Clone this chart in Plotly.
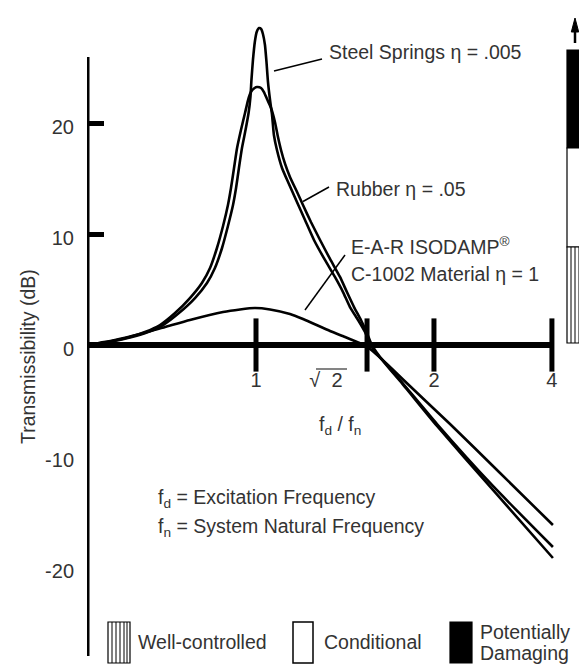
import plotly.graph_objects as go

# ---------------- data ----------------
# x: position on the illustration's f_d/f_n scale (1 = resonance tick), y: transmissibility in dB
steel_x = [0, 0.148, 0.266, 0.361, 0.450, 0.544, 0.639, 0.710, 0.757, 0.799, 0.834, 0.864, 0.882,
           0.899, 0.917, 0.938, 0.956, 0.967, 0.973, 0.982, 0.993, 1.004, 1.018, 1.030, 1.041, 1.053,
           1.062, 1.071, 1.083, 1.095, 1.106, 1.124, 1.154, 1.195, 1.237, 1.290, 1.343, 1.408, 1.467,
           1.515, 1.556, 1.604, 1.645, 1.669, 1.692, 1.746, 1.852, 2.071, 2.402, 2.757]
steel_db = [0, 0.32, 0.72, 1.17, 1.80, 2.88, 4.23, 5.59, 6.94, 8.74, 10.72, 12.61, 14.14,
            15.95, 17.75, 19.37, 20.90, 22.34, 23.87, 25.68, 27.30, 28.20, 28.56, 28.47, 28.02, 27.03,
            25.50, 23.69, 22.07, 20.72, 18.92, 17.57, 15.95, 14.50, 13.06, 11.26, 9.46, 7.66, 6.13,
            4.77, 3.42, 2.25, 1.17, 0.27, -0.36, -1.35, -3.24, -7.30, -13.06, -19.19]

rubber_x = [0, 0.136, 0.254, 0.343, 0.432, 0.521, 0.609, 0.680, 0.728, 0.769, 0.805, 0.834, 0.852,
            0.870, 0.888, 0.911, 0.935, 0.953, 0.970, 0.988, 1.006, 1.030, 1.047, 1.065, 1.089, 1.112,
            1.130, 1.148, 1.172, 1.201, 1.243, 1.278, 1.325, 1.379, 1.438, 1.497, 1.538, 1.580, 1.621,
            1.651, 1.675, 1.692, 1.734, 1.852, 2.071, 2.402, 2.757]
rubber_db = [0, 0.32, 0.72, 1.17, 1.80, 2.88, 4.23, 5.59, 6.94, 8.74, 10.72, 12.61, 14.14,
             15.95, 17.75, 19.37, 20.90, 22.07, 22.79, 23.11, 23.24, 23.15, 22.79, 22.16, 21.35, 20.09,
             18.74, 17.57, 16.31, 15.14, 13.78, 12.61, 11.08, 9.46, 7.75, 6.13, 4.77, 3.42, 2.25,
             1.26, 0.36, -0.18, -1.08, -3.15, -7.12, -12.70, -18.20]

ear_x = [0, 0.166, 0.314, 0.462, 0.609, 0.805, 0.905, 0.994, 1.083, 1.201, 1.278, 1.438, 1.527,
         1.598, 1.651, 1.710, 1.781, 1.870, 2.148, 2.444, 2.757]
ear_db = [0, 0.45, 0.99, 1.62, 2.25, 2.97, 3.20, 3.33, 3.20, 2.79, 2.34, 1.26, 0.72,
          0.27, -0.09, -0.81, -1.80, -3.11, -7.12, -11.53, -16.22]

x_tick_marks = [1.0, 1.657, 2.053, 2.751]
x_label_vals = [1.0, 1.414, 2.053, 2.751]
x_label_text = ["1", "\u221a\u00a0\u00a02", "2", "4"]
y_label_vals = [20, 10, 0, -10, -20]
y_label_text = ["20", "10", "0", "-10", "-20"]
y_tick_marks = [20, 10]

series_names = ["Steel Springs \u03b7 = .005", "Rubber \u03b7 = .05",
                "E-A-R ISODAMP\u00ae C-1002 Material \u03b7 = 1"]
zone_names = ["Well-controlled", "Conditional", "Potentially Damaging"]

# ---------------- geometry ----------------
OFF = 8                      # page margin of the html body
W, H = 587 - OFF, 666 - OFF  # figure size
AX_X = 87                    # page x of the vertical axis
ZERO_Y = 345                 # page y of 0 dB
L = AX_X - OFF
PPU = 169.0
PPD = 11.1
x_range = [0, (W - L) / PPU]
y_range = [-(H - (ZERO_Y - OFF)) / PPD, (ZERO_Y - OFF) / PPD]


def du(p):   # page x -> data x
    return (p - AX_X) / PPU


def ddb(p):  # page y -> data y
    return (ZERO_Y - p) / PPD


def pxp(p):  # page x -> paper x
    return (p - AX_X) / (W - L)


def pyp(p):  # page y -> paper y
    return 1 - (p - OFF) / H


FONT = "Liberation Sans, Arial, Helvetica, sans-serif"
FS = 19.5
TXT = "#333333"

fig = go.Figure()
for xs, ys, nm in [(ear_x, ear_db, series_names[2]), (rubber_x, rubber_db, series_names[1]),
                   (steel_x, steel_db, series_names[0])]:
    fig.add_trace(go.Scatter(x=xs, y=ys, mode="lines", name=nm,
                             line=dict(color="black", width=2.6, shape="spline", smoothing=0.5),
                             showlegend=False, hoverinfo="skip"))

fig.add_trace(go.Scatter(x=x_tick_marks, y=[0] * len(x_tick_marks), mode="markers",
                         marker=dict(symbol="line-ns", size=38, line=dict(width=5, color="black")),
                         showlegend=False, hoverinfo="skip", cliponaxis=False))
fig.add_trace(go.Scatter(x=[None], y=[None], yaxis="y2", showlegend=False, hoverinfo="skip"))

shapes = []
# axis lines
shapes.append(dict(type="line", xref="x", yref="y", x0=0, x1=0, y0=ddb(656), y1=ddb(57),
                   line=dict(color="black", width=5)))
shapes.append(dict(type="line", xref="x", yref="y", x0=0, x1=x_tick_marks[-1], y0=0, y1=0,
                   line=dict(color="black", width=6)))
# leader lines
for (a, b, c, d) in [(274, 71, 322, 59), (303, 201.5, 329, 187), (305, 310, 345, 255)]:
    shapes.append(dict(type="line", xref="x", yref="y", x0=du(a), y0=ddb(b), x1=du(c), y1=ddb(d),
                       line=dict(color="black", width=1.5)))
# overline of sqrt(2)
shapes.append(dict(type="line", xref="x", yref="y", x0=du(316), x1=du(347), y0=ddb(369), y1=ddb(369),
                   line=dict(color=TXT, width=1.2)))


def rect(x0, y0, x1, y1, fill, lw=1.2, col="black"):
    return dict(type="rect", xref="paper", yref="paper", x0=pxp(x0), x1=pxp(x1), y0=pyp(y1), y1=pyp(y0),
                fillcolor=fill, line=dict(color=col, width=lw))


def vline(x, y0, y1, lw=1.0):
    return dict(type="line", xref="paper", yref="paper", x0=pxp(x), x1=pxp(x), y0=pyp(y0), y1=pyp(y1),
                line=dict(color="black", width=lw))


# bottom legend swatches
shapes.append(rect(108, 622, 130, 663, "white"))
for xh in [112, 116, 120, 124, 127]:
    shapes.append(vline(xh, 622, 663))
shapes.append(rect(293, 622, 313, 663, "white", 1.5))
shapes.append(rect(450, 622, 472, 663, "black"))

# right-hand severity bar
shapes.append(rect(567, 50, 592, 148, "black"))
shapes.append(rect(567, 148, 592, 247, "white"))
shapes.append(rect(567, 247, 592, 343, "white"))
for xh in [571, 575, 579, 583]:
    shapes.append(vline(xh, 247, 343))
# arrow
shapes.append(vline(575, 43, 28, 2.5))
shapes.append(dict(type="path", xref="paper", yref="paper",
                   path="M {} {} L {} {} L {} {} Z".format(pxp(571.3), pyp(32), pxp(575), pyp(18),
                                                             pxp(578.7), pyp(32)),
                   fillcolor="black", line=dict(color="black", width=1)))

ann = []


def txt(x, y, t, xa="left", ref="data", size=FS, **kw):
    d = dict(x=x, y=y, text=t, showarrow=False, xanchor=xa, yanchor="middle",
             font=dict(family=FONT, size=size, color=TXT))
    if ref == "paper":
        d.update(xref="paper", yref="paper")
    else:
        d.update(xref="x", yref="y")
    d.update(kw)
    return d


ann.append(txt(du(327), ddb(52), "Steel Springs \u03b7 = .005"))
ann.append(txt(du(334), ddb(189), "Rubber \u03b7 = .05"))
ann.append(txt(du(349), ddb(246), "E-A-R ISODAMP<sup>\u00ae</sup>"))
ann.append(txt(du(349), ddb(274), "C-1002 Material \u03b7 = 1"))
ann.append(txt(du(340), ddb(425), "f<sub>d</sub> / f<sub>n</sub>", xa="center"))
ann.append(txt(du(156), ddb(498), "f<sub>d</sub> = Excitation Frequency"))
ann.append(txt(du(156), ddb(527), "f<sub>n</sub> = System Natural Frequency"))
ann.append(txt(pxp(28), pyp(357), "Transmissibility (dB)", xa="center", ref="paper", textangle=-90))
ann.append(txt(pxp(136), pyp(642), zone_names[0], ref="paper"))
ann.append(txt(pxp(322), pyp(642), zone_names[1], ref="paper"))
ann.append(txt(pxp(478), pyp(632), "Potentially", ref="paper"))
ann.append(txt(pxp(478), pyp(653), "Damaging", ref="paper"))

fig.update_layout(
    width=W, height=H,
    margin=dict(l=L, r=0, t=0, b=0),
    plot_bgcolor="white", paper_bgcolor="white",
    showlegend=False,
    shapes=shapes, annotations=ann,
    xaxis=dict(range=x_range, showgrid=False, zeroline=False, showline=False,
               anchor="free", position=pyp(ZERO_Y),
               tickmode="array", tickvals=x_label_vals, ticktext=x_label_text,
               ticks="outside", ticklen=17, tickcolor="rgba(0,0,0,0)",
               tickfont=dict(family=FONT, size=20, color=TXT)),
    yaxis=dict(range=y_range, showgrid=False, zeroline=False, showline=False,
               tickmode="array", tickvals=y_label_vals, ticktext=y_label_text,
               ticks="", ticklabelstandoff=12, ticklabelshift=4,
               tickfont=dict(family=FONT, size=20, color=TXT)),
    yaxis2=dict(range=y_range, overlaying="y", side="left", showgrid=False, zeroline=False,
                showline=False, tickmode="array", tickvals=y_tick_marks, ticks="inside",
                ticklen=17, tickwidth=5, tickcolor="black", showticklabels=False),
)

fig.write_html("out.html")
